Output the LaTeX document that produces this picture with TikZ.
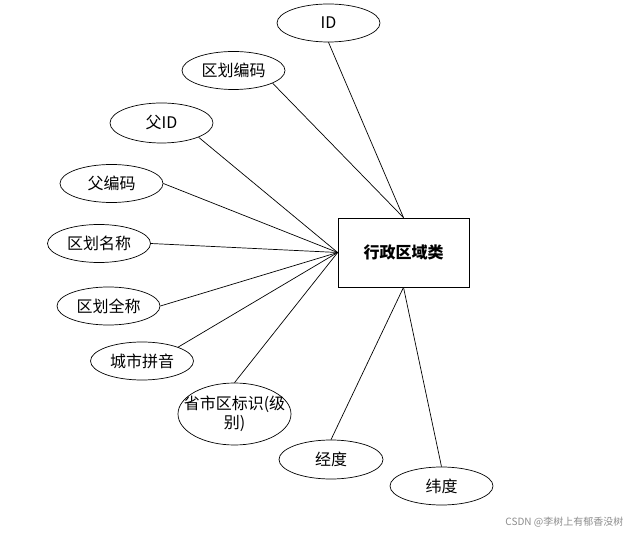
\documentclass[tikz,border=0pt]{standalone}
\usepackage{fontspec}
\newfontfamily\cjk{Noto Sans CJK SC}
\usetikzlibrary{shapes.geometric}

\begin{document}
\begin{tikzpicture}[x=1pt, y=-1pt, line width=0.7pt,
  font=\cjk\fontsize{16}{19}\selectfont,
  attr/.style={ellipse, draw, inner sep=0pt, minimum width=103pt, minimum height=38pt},
  entity/.style={rectangle, draw, inner sep=0pt, minimum width=131pt, minimum height=69pt}]
  \useasboundingbox (0,0) rectangle (634,534);

  \node[entity] (region) at (403.5,252.5) {\bfseries 行政区域类};

  \node[attr] (id)       at (328.5,23)  {ID};
  \node[attr] (code)     at (233.5,70.5) {区划编码};
  \node[attr, minimum height=40pt] (pid) at (161.5,123) {父ID};
  \node[attr] (pcode)    at (111.5,183.5) {父编码};
  \node[attr] (name)     at (99,243.5)  {区划名称};
  \node[attr] (fullname) at (108.5,306) {区划全称};
  \node[attr] (pinyin)   at (142,361)   {城市拼音};
  \node[attr, minimum width=113pt, minimum height=62pt] (level) at (234.5,414) {};
  \node[align=center] (leveltext) at (level) {省市区标识(级\\别)};
  \node[attr, minimum width=104pt, minimum height=39pt] (lng) at (331,459.5) {经度};
  \node[attr] (lat)      at (441.5,486) {纬度};

  % connectors
  \draw (id.south) -- (region.north);
  \draw (code.-18) -- (region.north);
  \draw (pid.-21) -- (region.west);
  \draw (pcode.east) -- (region.west);
  \draw (name.east) -- (region.west);
  \draw (fullname.east) -- (region.west);
  \draw (pinyin.21) -- (region.west);
  \draw (level.north) -- (region.west);
  \draw (lng.north) -- (region.south);
  \draw (lat.north) -- (region.south);

  \node[anchor=east, text=black!45, font=\cjk\fontsize{10}{12}\selectfont] (mark) at (627,522) {CSDN @李树上有郁香没树};
\end{tikzpicture}
\end{document}
